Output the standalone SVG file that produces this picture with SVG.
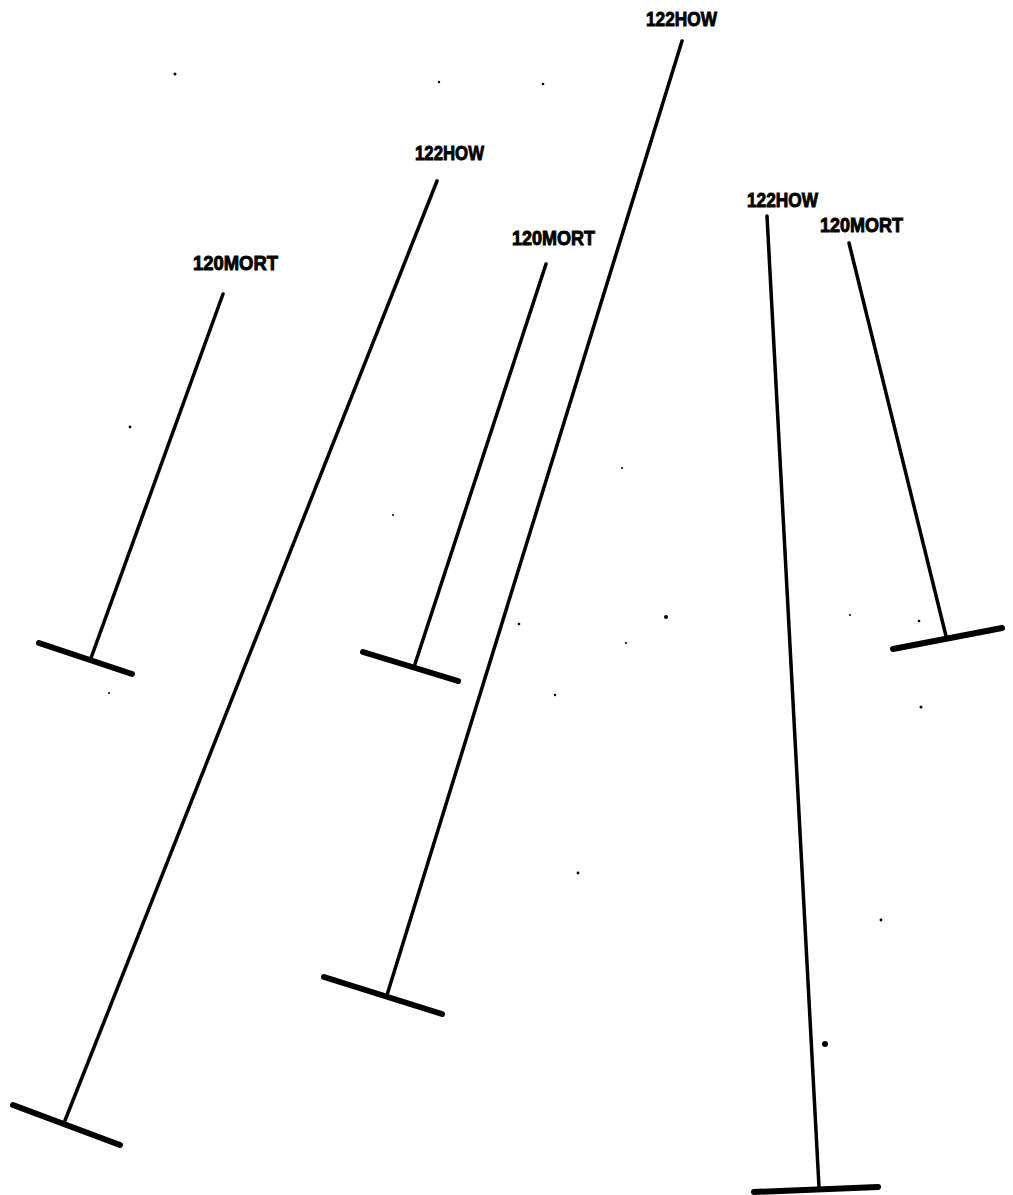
<svg xmlns="http://www.w3.org/2000/svg" width="1013" height="1195" viewBox="0 0 1013 1195">
<style>
.lbl{font-family:"Liberation Sans","DejaVu Sans",sans-serif;font-weight:bold;font-size:20px;fill:#000;stroke:#000;stroke-width:0.9;}
.stem{stroke:#000;stroke-width:3.5;stroke-linecap:round;fill:none;}
.bar{stroke:#000;stroke-width:6;stroke-linecap:round;fill:none;}
.dot{fill:#000;}
</style>
<rect width="1013" height="1195" fill="#fff"/>
<g id="unit-a">
<text class="lbl" x="193" y="270" textLength="85" lengthAdjust="spacingAndGlyphs">120MORT</text>
<line class="stem" x1="223" y1="294" x2="91" y2="658"/>
<line class="bar" x1="39" y1="643" x2="132" y2="674"/>
</g>
<g id="unit-b">
<text class="lbl" x="415" y="160" textLength="69" lengthAdjust="spacingAndGlyphs">122HOW</text>
<line class="stem" x1="437" y1="181" x2="64" y2="1123"/>
<line class="bar" x1="13" y1="1105" x2="120" y2="1145"/>
</g>
<g id="unit-c">
<text class="lbl" x="512" y="245" textLength="83" lengthAdjust="spacingAndGlyphs">120MORT</text>
<line class="stem" x1="546" y1="264" x2="415" y2="664"/>
<line class="bar" x1="363" y1="652" x2="458" y2="681"/>
</g>
<g id="unit-d">
<text class="lbl" x="646" y="26" textLength="71" lengthAdjust="spacingAndGlyphs">122HOW</text>
<line class="stem" x1="682" y1="41" x2="387" y2="995"/>
<line class="bar" x1="324" y1="977" x2="442" y2="1014"/>
</g>
<g id="unit-e">
<text class="lbl" x="747" y="207" textLength="71" lengthAdjust="spacingAndGlyphs">122HOW</text>
<line class="stem" x1="767" y1="216" x2="819" y2="1187"/>
<line class="bar" x1="754" y1="1192" x2="878" y2="1187"/>
</g>
<g id="unit-f">
<text class="lbl" x="820" y="232" textLength="83" lengthAdjust="spacingAndGlyphs">120MORT</text>
<line class="stem" x1="849" y1="243" x2="946" y2="636"/>
<line class="bar" x1="893" y1="649" x2="1002" y2="628"/>
</g>
<g id="specks">
<circle class="dot" cx="175" cy="74" r="1.5"/>
<circle class="dot" cx="439" cy="82" r="1.2"/>
<circle class="dot" cx="543" cy="84" r="1.3"/>
<circle class="dot" cx="130" cy="427" r="1.4"/>
<circle class="dot" cx="393" cy="515" r="1"/>
<circle class="dot" cx="109" cy="693" r="1"/>
<circle class="dot" cx="622" cy="468" r="1"/>
<circle class="dot" cx="666" cy="617" r="2"/>
<circle class="dot" cx="519" cy="624" r="1.3"/>
<circle class="dot" cx="626" cy="643" r="1.1"/>
<circle class="dot" cx="555" cy="695" r="1.2"/>
<circle class="dot" cx="850" cy="615" r="1"/>
<circle class="dot" cx="919" cy="621" r="1.3"/>
<circle class="dot" cx="921" cy="707" r="1.5"/>
<circle class="dot" cx="578" cy="873" r="1.4"/>
<circle class="dot" cx="881" cy="920" r="1.4"/>
<circle class="dot" cx="825" cy="1044" r="3"/>
</g>
</svg>
